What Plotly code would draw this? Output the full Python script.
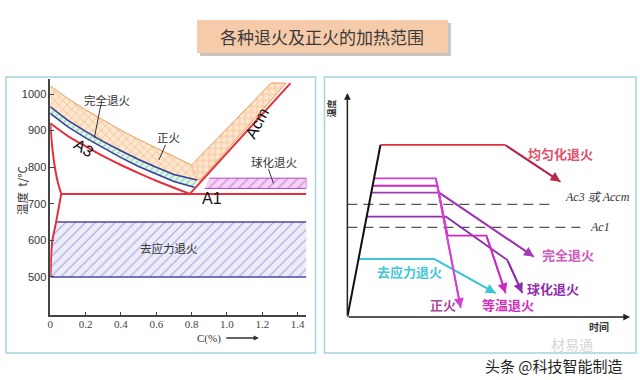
import plotly.graph_objects as go

W, H = 640, 380

# ---------------- left chart: Fe-C diagram data ----------------
x_ticks = [0, 0.2, 0.4, 0.6, 0.8, 1.0, 1.2, 1.4]
x_tick_labels = ["0", "0.2", "0.4", "0.6", "0.8", "1.0", "1.2", "1.4"]
y_ticks = [500, 600, 700, 800, 900, 1000]
y_tick_labels = ["500", "600", "700", "800", "900", "1000"]

a3_c = [0, 0.1, 0.2, 0.3, 0.4, 0.5, 0.6, 0.7, 0.79]
a3_t = [920, 885, 857, 830, 806, 784, 763, 744, 727]
full_low_c = [0, 0.1, 0.2, 0.3, 0.4, 0.5, 0.6, 0.7, 0.815]
full_low_t = [947, 910, 880, 852, 826, 802, 781, 761, 745]
full_high_c = [0, 0.1, 0.2, 0.3, 0.4, 0.5, 0.6, 0.7, 0.83]
full_high_t = [965, 928, 898, 870, 845, 821, 800, 780, 765]
norm_top_c = [0, 0.1, 0.2, 0.3, 0.4, 0.5, 0.6, 0.7, 0.80]
norm_top_t = [1022, 988, 957, 928, 901, 876, 853, 830, 806]
norm_hyper_c = [0.80, 1.25, 1.335, 0.85, 0.83]
norm_hyper_t = [806, 1030, 1030, 765, 765]
acm_c = [0.79, 1.36]
acm_t = [727, 1030]
a1_c = [0.062, 1.45]
a1_t = [727, 727]
gp_c = [0, 0.008, 0.024, 0.042, 0.062]
gp_t = [920, 870, 806, 760, 727]
pq_c = [0.062, 0.048, 0.033, 0.012, 0.004, 0.002]
pq_t = [727, 690, 650, 600, 550, 500]
sphero_c = [0.875, 1.45, 1.45, 0.90]
sphero_t = [742, 742, 770, 770]
stress_low, stress_high, stress_right = 500, 650, 1.45

# ---------------- right chart: process curves ----------------
heat_t = [0, 11.7]
heat_T = [0, 76.8]
homog_t = [11.7, 55.8, 75.4]
homog_T = [76.8, 76.8, 60.4]
normal_t = [9.4, 31.3, 40.1]
normal_T = [61.9, 61.9, 4.0]
iso_t = [8.9, 31.9, 35.5, 49.2, 56.0]
iso_T = [58.6, 58.6, 36.3, 36.3, 10.6]
full_t = [8.5, 32.5, 66.0]
full_T = [55.5, 55.5, 26.9]
sph_t = [6.8, 34.9, 56.6, 61.9]
sph_T = [44.8, 44.8, 25.4, 10.7]
stress_t = [3.9, 30.7, 52.5]
stress_T = [25.9, 25.9, 10.6]
ac3_t = [0, 73]
ac3_T = [50.3, 50.3]
ac1_t = [0, 82.4]
ac1_T = [40, 40]
r_axis_max = 100


def px(x):
    return x / W


def py(y):
    return 1 - y / H


fig = go.Figure()

RED = "#E3303C"
NAVY = "#36419C"
CJK = "Noto Sans CJK SC"

# stress-relief band
s_c = [pq_c[2], stress_right, stress_right] + [c for c, t in zip(pq_c, pq_t) if t <= stress_high][::-1]
s_t = [stress_high, stress_high, stress_low] + [t for t in pq_t if t <= stress_high][::-1]
fig.add_trace(go.Scatter(x=s_c, y=s_t, mode="lines", fill="toself",
                         line=dict(color="rgba(0,0,0,0)", width=0),
                         fillcolor="#ECECFA",
                         fillpattern=dict(shape="/", fgcolor="#5858BC", bgcolor="#ECECFA", size=7, solidity=0.15),
                         hoverinfo="skip"))
for tv in (stress_low, stress_high):
    fig.add_trace(go.Scatter(x=[pq_c[2] if tv == stress_high else pq_c[-1], stress_right], y=[tv, tv],
                             mode="lines", line=dict(color="#4A4AA8", width=1.5), hoverinfo="skip"))

# spheroidizing band
fig.add_trace(go.Scatter(x=sphero_c, y=sphero_t, mode="lines", fill="toself",
                         line=dict(color="#B048C8", width=1),
                         fillcolor="#F7D2F7",
                         fillpattern=dict(shape="/", fgcolor="#B048C8", bgcolor="#F7D2F7", size=7, solidity=0.2),
                         hoverinfo="skip"))

# full-annealing band (green)
fa_c = full_high_c + full_low_c[::-1]
fa_t = full_high_t + full_low_t[::-1]
fig.add_trace(go.Scatter(x=fa_c, y=fa_t, mode="lines", fill="toself",
                         line=dict(color="rgba(0,0,0,0)", width=0),
                         fillcolor="#E2F4EA",
                         fillpattern=dict(shape="/", fgcolor="#5CC090", bgcolor="#E2F4EA", size=5, solidity=0.3),
                         hoverinfo="skip"))

# normalizing band (orange cross hatch) - hypoeutectoid part
nh_c = norm_top_c + full_high_c[::-1]
nh_t = norm_top_t + full_high_t[::-1]
fig.add_trace(go.Scatter(x=nh_c, y=nh_t, mode="lines", fill="toself",
                         line=dict(color="#EC9A58", width=1),
                         fillcolor="#FCE6CE",
                         fillpattern=dict(shape="x", fgcolor="#EC9450", bgcolor="#FCE6CE", size=6, solidity=0.25),
                         hoverinfo="skip"))
# hypereutectoid part
fig.add_trace(go.Scatter(x=norm_hyper_c, y=norm_hyper_t, mode="lines", fill="toself",
                         line=dict(color="#EC9A58", width=1),
                         fillcolor="#FCE6CE",
                         fillpattern=dict(shape="+", fgcolor="#EC9450", bgcolor="#FCE6CE", size=6, solidity=0.25),
                         hoverinfo="skip"))

# blue boundaries
fig.add_trace(go.Scatter(x=full_high_c, y=full_high_t, mode="lines", line=dict(color=NAVY, width=1.5), hoverinfo="skip"))
fig.add_trace(go.Scatter(x=full_low_c, y=full_low_t, mode="lines", line=dict(color=NAVY, width=1.5), hoverinfo="skip"))

# red phase lines
for cx, ty in ((a3_c, a3_t), (acm_c, acm_t), (a1_c, a1_t), (gp_c, gp_t), (pq_c, pq_t)):
    fig.add_trace(go.Scatter(x=cx, y=ty, mode="lines", line=dict(color=RED, width=2, shape="spline", smoothing=0.6),
                             hoverinfo="skip"))

# ---------------- right chart traces ----------------
def rline(t, T, color, width=1.8, dash=None):
    fig.add_trace(go.Scatter(x=t, y=T, xaxis="x2", yaxis="y2", mode="lines",
                             line=dict(color=color, width=width, dash=dash), hoverinfo="skip"))


rline(ac3_t, ac3_T, "#555555", 1.2, "10px,6px")
rline(ac1_t, ac1_T, "#555555", 1.2, "10px,6px")
rline(stress_t, stress_T, "#3EC6D6")
rline(sph_t, sph_T, "#8E2EAA")
rline(full_t, full_T, "#A23AB8")
rline(iso_t, iso_T, "#D028C6")
rline(normal_t, normal_T, "#D43ED2")
rline(homog_t[:2], homog_T[:2], "#E2303E")
rline(homog_t[1:], homog_T[1:], "#B8284A")
rline(heat_t, heat_T, "#111111", 2)

ann = []
for t, T, col in ((stress_t, stress_T, "#3EC6D6"), (sph_t, sph_T, "#8E2EAA"), (full_t, full_T, "#A23AB8"),
                  (iso_t, iso_T, "#D028C6"), (normal_t, normal_T, "#D43ED2"), (homog_t, homog_T, "#B8284A")):
    ann.append(dict(x=t[-1], y=T[-1], ax=t[-2], ay=T[-2], xref="x2", yref="y2", axref="x2", ayref="y2",
                    text="", showarrow=True, arrowhead=2, arrowsize=1.1, arrowwidth=1.8, arrowcolor=col))
# right axes with arrows
ann.append(dict(x=0, y=r_axis_max, ax=0, ay=0, xref="x2", yref="y2", axref="x2", ayref="y2",
                text="", showarrow=True, arrowhead=2, arrowsize=0.9, arrowwidth=1.5, arrowcolor="#222"))
ann.append(dict(x=r_axis_max, y=0, ax=0, ay=0, xref="x2", yref="y2", axref="x2", ayref="y2",
                text="", showarrow=True, arrowhead=2, arrowsize=0.9, arrowwidth=1.5, arrowcolor="#222"))


def txt_ann(x, y, text, font, xref="paper", yref="paper", xanchor="center", textangle=0):
    return dict(x=x, y=y, xref=xref, yref=yref, text=text, showarrow=False, font=font,
                xanchor=xanchor, yanchor="middle", textangle=textangle)


bold_font = lambda c, s=13: dict(family=CJK, size=s, color=c, weight="bold")
for txt, t, T, col in (("均匀化退火", 75.4, 73.2, "#E0506A"), ("完全退火", 78.0, 27.7, "#D058C0"),
                       ("球化退火", 72.9, 12.8, "#8E2EAA"), ("等温退火", 56.9, 5.4, "#D030C0"),
                       ("正火", 34.0, 5.4, "#A84A9A"), ("去应力退火", 22.0, 20.2, "#46C6D8")):
    ann.append(txt_ann(t, T, txt, bold_font(col), "x2", "y2"))
ann.append(txt_ann(px(563), py(197), "Ac3 或 Accm",
                   dict(family="Liberation Serif", size=12, color="#333", style="italic"), xanchor="left"))
ann.append(txt_ann(px(588), py(227), "Ac1",
                   dict(family="Liberation Serif", size=12, color="#333", style="italic"), xanchor="left"))
ann.append(txt_ann(px(330), py(108), "温度", bold_font("#333", 9), textangle=-90))
ann.append(txt_ann(px(599), py(326), "时间", bold_font("#333", 10)))

# left chart labels
lab_font = dict(family=CJK, size=11.5, color="#333")
for txt, c, T in (("完全退火", 0.324, 984), ("正火", 0.671, 883), ("球化退火", 1.272, 815), ("去应力退火", 0.671, 578)):
    ann.append(txt_ann(c, T, txt, lab_font, "x", "y"))
ann.append(txt_ann(0.193, 852, "A3", dict(family="Liberation Sans", size=16, color="#111"), "x", "y", textangle=32))
ann.append(txt_ann(1.169, 920, "Acm", dict(family="Liberation Sans", size=16, color="#111"), "x", "y", textangle=-62))
ann.append(txt_ann(0.915, 714, "A1", dict(family="Liberation Sans", size=16, color="#111"), "x", "y"))
ann.append(txt_ann(px(19), py(190), "温度  t/°C", dict(family=CJK, size=11.5, color="#333"), textangle=-90))
ann.append(txt_ann(px(207), py(338), "C(%)", dict(family="Liberation Serif", size=11, color="#333")))
ann.append(dict(x=px(257), y=py(338), ax=-34, ay=0, xref="paper", yref="paper", text="", showarrow=True,
                arrowhead=2, arrowsize=0.8, arrowwidth=1.3, arrowcolor="#333"))

# title and watermarks
ann.append(txt_ann(px(321), py(37), "各种退火及正火的加热范围", dict(family=CJK, size=17, color="#3A3A3A")))
ann.append(txt_ann(px(572), py(344), "材易通", dict(family=CJK, size=14, color="#D6D6D6")))
ann.append(txt_ann(px(554), py(365), "头条 @科技智能制造",
                   dict(family=CJK, size=15, color="#1E1E1E",
                        shadow="1px 1px 1px #ffffff, -1px -1px 1px #ffffff, 1px -1px 1px #ffffff, -1px 1px 1px #ffffff")))

shapes = [
    dict(type="rect", xref="paper", yref="paper", x0=px(198), x1=px(450), y0=py(23), y1=py(56),
         fillcolor="#C4C4C4", line=dict(width=0), layer="below"),
    dict(type="rect", xref="paper", yref="paper", x0=px(195), x1=px(447), y0=py(20), y1=py(53),
         fillcolor="#F6CBAA", line=dict(width=0), layer="below"),
    dict(type="rect", xref="paper", yref="paper", x0=px(3), x1=px(314), y0=py(77), y1=py(353),
         line=dict(color="#A3D5DE", width=1.5), layer="below"),
    dict(type="rect", xref="paper", yref="paper", x0=px(323), x1=px(636), y0=py(77), y1=py(353),
         line=dict(color="#A3D5DE", width=1.5), layer="below"),
    # leader lines
    dict(type="line", xref="x", yref="y", x0=0.286, y0=970, x1=0.249, y1=879, line=dict(color="#333", width=1)),
    dict(type="line", xref="x", yref="y", x0=0.652, y0=861, x1=0.615, y1=820, line=dict(color="#333", width=1)),
    dict(type="line", xref="x", yref="y", x0=1.235, y0=795, x1=1.263, y1=756, line=dict(color="#333", width=1)),
]

fig.update_layout(
    width=W, height=H, autosize=False, margin=dict(l=0, r=0, t=0, b=0),
    paper_bgcolor="white", plot_bgcolor="rgba(0,0,0,0)", showlegend=False,
    xaxis=dict(domain=[px(47.5), px(47.5 + 1.45 * 177.5)], range=[0, 1.45], tickvals=x_ticks, ticktext=x_tick_labels,
               showline=True, linecolor="#444", linewidth=1.5, ticks="inside", ticklen=4, tickcolor="#444",
               showgrid=False, zeroline=False, ticklabelstandoff=-2,
               tickfont=dict(family="Liberation Serif", size=11, color="#444")),
    yaxis=dict(domain=[py(315.4), py(79.4)], range=[395, 1040], tickvals=y_ticks, ticktext=y_tick_labels,
               showline=True, linecolor="#444", linewidth=1.5, ticks="inside", ticklen=4, tickcolor="#444",
               showgrid=False, zeroline=False,
               tickfont=dict(family="Liberation Sans", size=11, color="#333")),
    xaxis2=dict(domain=[px(346), px(630)], range=[0, r_axis_max], visible=False, anchor="y2"),
    yaxis2=dict(domain=[py(317), py(93)], range=[0, r_axis_max], visible=False, anchor="x2"),
    annotations=ann, shapes=shapes,
)

fig.write_html("out.html", config={"displayModeBar": False},
               post_script="document.body.style.margin='0';")
